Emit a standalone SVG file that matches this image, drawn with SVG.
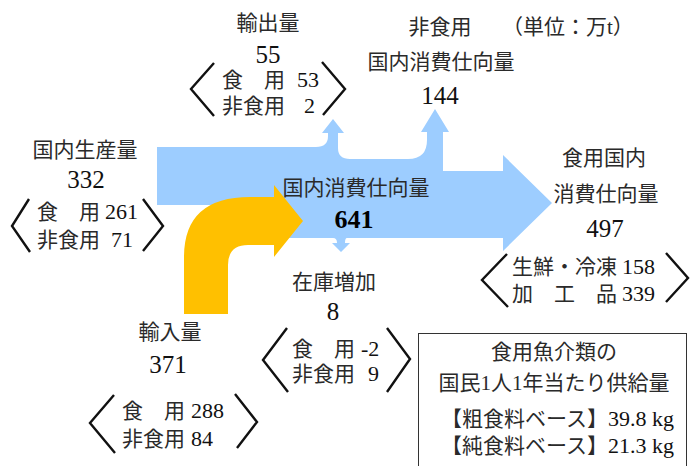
<svg xmlns="http://www.w3.org/2000/svg" width="690" height="466" viewBox="0 0 690 466">
<style>
text{font-family:"Liberation Serif","Noto Sans CJK JP",serif;font-size:21px;fill:#2a2a2a}
.n{font-size:25px;fill:#111}
.s{font-size:22px;fill:#111}
.m{text-anchor:middle}
.e{text-anchor:end}
.b{font-size:26px;font-weight:bold;fill:#000}
.br{fill:none;stroke:#111;stroke-width:2.4}
.blue{fill:#9DCDFF}
.yel{fill:#FFC000}
</style>
<rect width="690" height="466" fill="#fff"/>
<g id="connectors">
<path class="blue" d="M157,147 H316 Q328,147 328,136 V133 H322 L333,119 L344,133 H338 V148 Q338,159 350,159 H408 Q427,159 427,140 V132 H421 L435,109 L449,132 H443 V171 H503 V155 L552,203 L503,251 V238 H347 Q345,238 345,243 H350 L341,252 L332,243 H337 Q337,238 333,238 H288 V205 H157 Z"/>
<path class="yel" d="M184,314 V257 Q184,197 250,197 H274 V185 L303,221 L274,257 V245 H248 Q228,245 228,265 V314 Z"/>
</g>
<g id="export">
<text class="m" x="268" y="30">輸出量</text>
<text class="n m" x="268" y="63">55</text>
<text x="222" y="87">食　用</text><text class="s" x="297" y="87">53</text>
<text x="222" y="113">非食用</text><text class="s" x="304" y="113">2</text>
<polyline class="br" points="214,63 191,89 214,116"/>
<polyline class="br" points="322,62 345,89 323,115"/>
</g>
<g id="production">
<text class="m" x="85" y="157">国内生産量</text>
<text class="n m" x="86" y="188">332</text>
<text x="37" y="219">食　用</text><text class="s" x="105" y="219">261</text>
<text x="37" y="247">非食用</text><text class="s" x="111" y="247">71</text>
<polyline class="br" points="29,199 12,226 30,252"/>
<polyline class="br" points="143,199 163,226 143,251"/>
</g>
<g id="import">
<text class="m" x="170" y="339">輸入量</text>
<text class="n m" x="168" y="373">371</text>
<text x="122" y="418">食　用</text><text class="s" x="191" y="418">288</text>
<text x="122" y="446">非食用</text><text class="s" x="191" y="446">84</text>
<polyline class="br" points="114,395 90,423 115,453"/>
<polyline class="br" points="235,394 257,422 237,448"/>
</g>
<g id="stock">
<text class="m" x="334" y="289">在庫増加</text>
<text class="n m" x="333" y="320">8</text>
<text x="292" y="356">食　用</text><text class="s" x="361" y="356">-2</text>
<text x="292" y="381">非食用</text><text class="s" x="368" y="381">9</text>
<polyline class="br" points="287,328 263,360 288,392"/>
<polyline class="br" points="387,328 410,359 387,392"/>
</g>
<g id="nonfood">
<text class="m" x="440" y="34">非食用</text>
<text x="502" y="34">（単位：万t）</text>
<text class="m" x="441" y="69">国内消費仕向量</text>
<text class="n m" x="440" y="104">144</text>
</g>
<g id="domestic">
<text class="m" x="356" y="195">国内消費仕向量</text>
<text class="b m" x="354" y="228">641</text>
</g>
<g id="food">
<text class="m" x="604" y="165">食用国内</text>
<text class="m" x="606" y="201">消費仕向量</text>
<text class="n m" x="605" y="237">497</text>
<text x="512" y="274">生鮮・冷凍</text><text class="s" x="622" y="274">158</text>
<text x="512" y="301">加　工　品</text><text class="s" x="622" y="301">339</text>
<polyline class="br" points="507,254 482,280 508,307"/>
<polyline class="br" points="666,253 688,278 666,302"/>
</g>
<g id="supply">
<rect x="418.5" y="333.5" width="268" height="140" fill="#fff" stroke="#333" stroke-width="1"/>
<text class="m" x="554" y="359">食用魚介類の</text>
<text class="m" x="554" y="390">国民1人1年当たり供給量</text>
<text class="e" x="674" y="426">【粗食料ベース】<tspan class="s">39.8 kg</tspan></text>
<text class="e" x="674" y="453">【純食料ベース】<tspan class="s">21.3 kg</tspan></text>
</g>
</svg>
